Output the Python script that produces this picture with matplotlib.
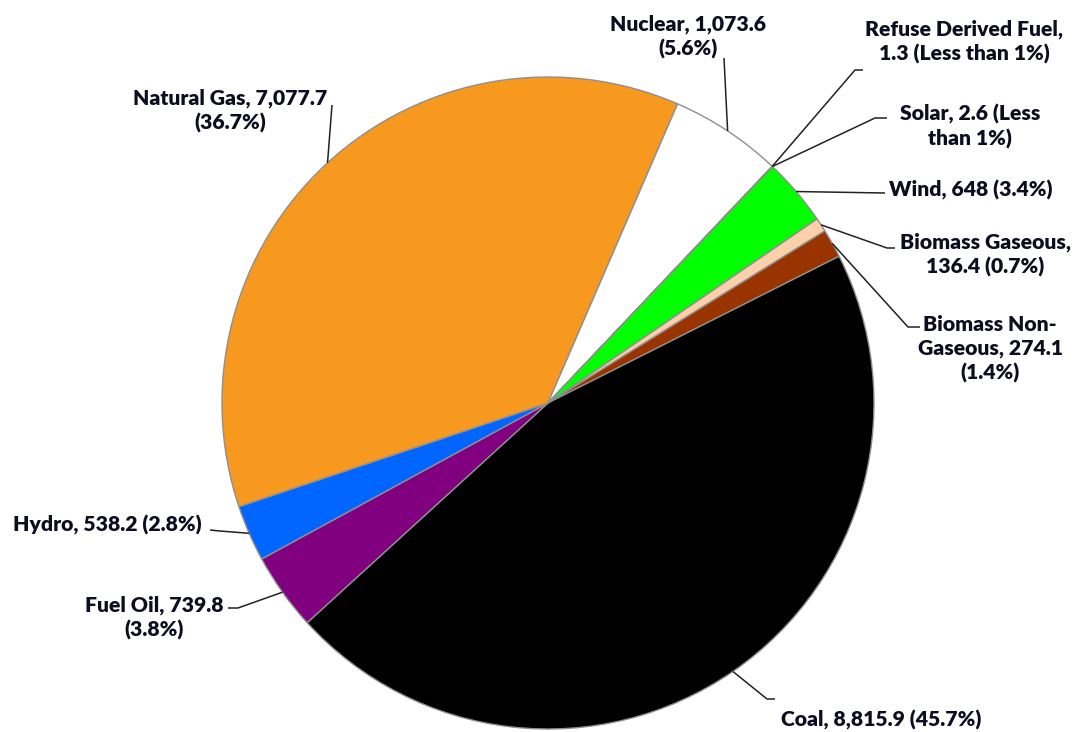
import numpy as np
import matplotlib
matplotlib.use('Agg')
import matplotlib.pyplot as plt

# Data (clockwise from the start angle)
sources = ['Biomass Gaseous', 'Biomass Non-Gaseous', 'Coal', 'Fuel Oil', 'Hydro',
           'Natural Gas', 'Nuclear', 'Refuse Derived Fuel', 'Solar', 'Wind']
capacity = [136.4, 274.1, 8815.9, 739.8, 538.2, 7077.7, 1073.6, 1.3, 2.6, 648]
labels = ['Biomass Gaseous,\n136.4 (0.7%)',
          'Biomass Non-\nGaseous, 274.1\n(1.4%)',
          'Coal, 8,815.9 (45.7%)',
          'Fuel Oil, 739.8\n(3.8%)',
          'Hydro, 538.2 (2.8%)',
          'Natural Gas, 7,077.7\n(36.7%)',
          'Nuclear, 1,073.6\n(5.6%)',
          'Refuse Derived Fuel,\n1.3 (Less than 1%)',
          'Solar, 2.6 (Less\nthan 1%)',
          'Wind, 648 (3.4%)']
colors = ['#FBD0AA', '#993300', '#000000', '#800080', '#0066FF',
          '#F7981F', '#FFFFFF', '#A0A0A0', '#FFD700', '#00FF00']

# Layout in pixel coords (y measured from top)
W, H = 1077, 732
def P(x, y):
    return (x, H - y)

center = P(548, 403)
radius = 326

# label text centre, elbow point, and where the leader touches the label
text_pos = [(985, 255), (990, 349), (881, 720), (154, 618), (107, 525),
            (230, 111), (688, 37), (964, 42), (970, 126), (971, 190)]
elbow = [(887, 248), (908, 327), (767, 699), (238, 608), (220, 531),
         (332, 105), (724, 58), (855, 70), (875, 118), (885, 193)]
line_end = [(895, 248), (920, 327), (775, 699), (228, 608), (210, 530),
            (332, 105), (724, 58), (863, 70), (887, 118), (885, 193)]

fig = plt.figure(figsize=(W / 100, H / 100), dpi=100)
ax = fig.add_axes([0, 0, 1, 1])

wedges, _ = ax.pie(capacity, colors=colors, startangle=34.4, counterclock=False,
                   center=center, radius=radius,
                   wedgeprops=dict(edgecolor='#8f8f8f', linewidth=1.0))

font = dict(family=['Lato', 'DejaVu Sans'], fontweight='heavy', fontsize=15.2,
            color='#0d0d20')

for w, lab, tp, el, le in zip(wedges, labels, text_pos, elbow, line_end):
    mid = np.deg2rad((w.theta1 + w.theta2) / 2)
    anchor = (center[0] + radius * np.cos(mid), center[1] + radius * np.sin(mid))
    pts = [anchor, P(*el), P(*le)]
    ax.plot([p[0] for p in pts], [p[1] for p in pts], color='#222222', lw=1.1,
            solid_capstyle='butt', zorder=3)
    ax.text(*P(*tp), lab, ha='center', va='center', multialignment='center',
            linespacing=1.3, **font)

ax.set_xlim(0, W)
ax.set_ylim(0, H)
ax.set_aspect('equal')
ax.axis('off')

fig.savefig('out.png', dpi=100)
